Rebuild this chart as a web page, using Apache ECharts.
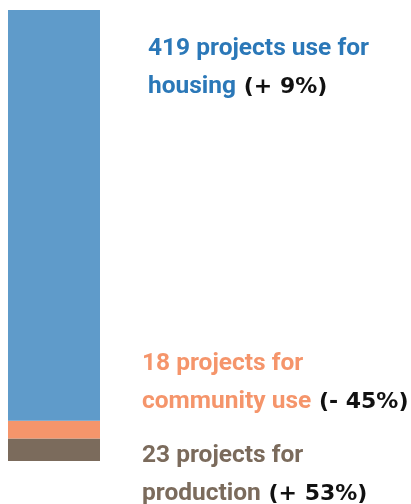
<!DOCTYPE html>
<html><head><meta charset="utf-8">
<script src="https://cdn.jsdelivr.net/npm/echarts@6/dist/echarts.min.js"></script>
<style>html,body{margin:0;padding:0;background:#fff}#c{width:411px;height:504px}</style>
</head><body><div id="c"></div>
<script>
const categories = ['Projects'];
const seriesNames = ['housing', 'community use', 'production'];
const housing = [419];
const community = [18];
const production = [23];
const changes = ['+ 9%', '- 45%', '+ 53%'];
const labelLine1 = ['419 projects use for', '18 projects for', '23 projects for'];
const labelLine2 = ['housing', 'community use', 'production'];
const barColors = ['#5f9bca', '#f5956b', '#7b6b5c'];
const textColors = ['#2b78b8', '#f5956b', '#7b6b5c'];

const chart = echarts.init(document.getElementById('c'));
function mkLabel(i, x, y) {
  return {
    type: 'text', x: x, y: y,
    style: {
      x: 0, y: 0,
      text: '{c|' + labelLine1[i] + '}\n{c|' + labelLine2[i] + '}{k| (' + changes[i] + ')}',
      rich: {
        c: { fill: textColors[i], fontSize: 24.5, fontWeight: 'bold', fontFamily: 'Roboto, sans-serif', lineHeight: 38.5 },
        k: { fill: '#111', fontSize: 22, fontWeight: 'bold', fontFamily: '"DejaVu Sans", sans-serif', lineHeight: 38.5 }
      }
    }
  };
}
chart.setOption({
  animation: false,
  grid: { left: 8, width: 92, top: 10, bottom: 43 },
  xAxis: { type: 'category', data: categories, show: false },
  yAxis: { type: 'value', min: 0, max: 460, show: false },
  series: [
    { name: seriesNames[2], type: 'bar', stack: 't', data: production, barWidth: '100%', itemStyle: { color: barColors[2] } },
    { name: seriesNames[1], type: 'bar', stack: 't', data: community, barWidth: '100%', itemStyle: { color: barColors[1] } },
    { name: seriesNames[0], type: 'bar', stack: 't', data: housing, barWidth: '100%', itemStyle: { color: barColors[0] } }
  ],
  graphic: [mkLabel(0, 148, 29.5), mkLabel(1, 142, 344.5), mkLabel(2, 142, 436.5)]
});
</script></body></html>
